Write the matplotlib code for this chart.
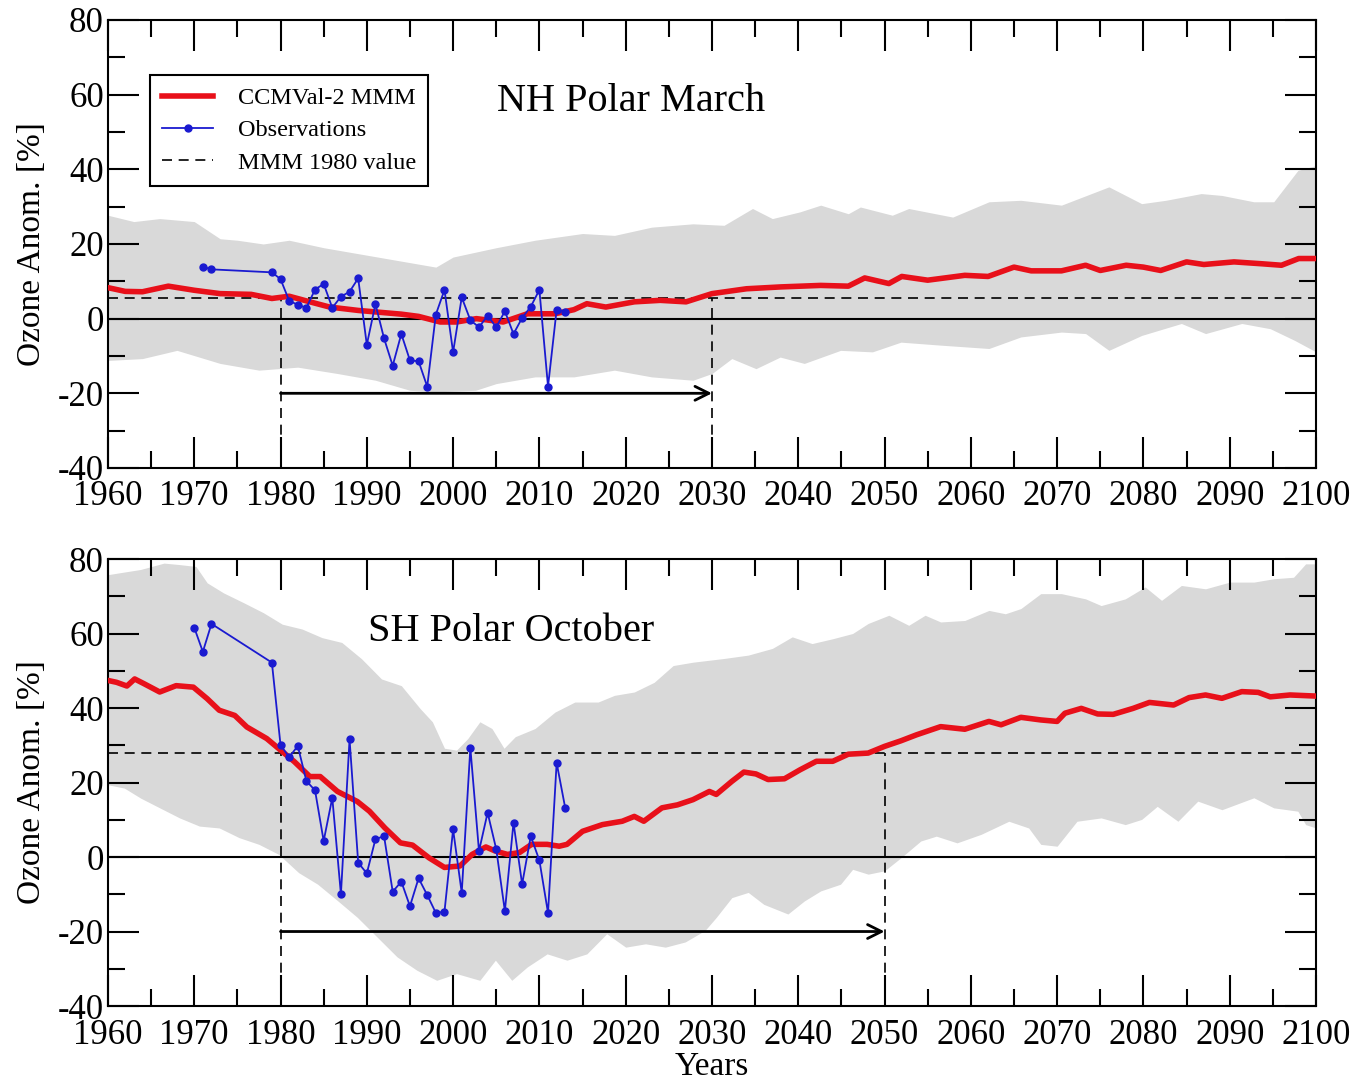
import numpy as np
import matplotlib
matplotlib.use("Agg")
import matplotlib.pyplot as plt
from matplotlib.ticker import MultipleLocator

plt.rcParams["font.family"] = ["Liberation Serif", "DejaVu Serif"]
plt.rcParams["axes.unicode_minus"] = False

# NH polar March: multi-model mean and model range
nh_mmm_yr = [1960, 1962, 1964, 1967, 1970, 1973, 1976.6, 1979, 1981, 1983.4, 1985.7, 1989,
             1991, 1994, 1996, 1998.5, 2000.4, 2002.7, 2005.8, 2008.6, 2011.8, 2014, 2015.5,
             2017.7, 2021, 2024, 2027, 2030, 2034, 2038, 2042.6, 2045.8, 2047.7, 2050.5, 2052,
             2055, 2059.3, 2062, 2065, 2067, 2070.5, 2073.3, 2075, 2078, 2080, 2082, 2085,
             2087, 2090.5, 2093.7, 2096, 2098, 2100]
nh_mmm = [8.3, 7.3, 7.2, 8.7, 7.6, 6.7, 6.5, 5.4, 6.0, 4.5, 3.1, 2.2,
          1.8, 1.2, 0.6, -0.9, -0.9, 0.0, -0.9, 1.3, 1.3, 2.4, 4.0,
          3.1, 4.5, 4.9, 4.5, 6.7, 8.0, 8.5, 8.9, 8.7, 10.9, 9.4, 11.3,
          10.3, 11.6, 11.3, 13.8, 12.8, 12.8, 14.3, 12.9, 14.3, 13.8, 12.9, 15.2,
          14.5, 15.2, 14.7, 14.3, 16.1, 16.1]

nh_hi_yr = [1960, 1963, 1966, 1970, 1973, 1975, 1978, 1981, 1985, 1989, 1993.5, 1998, 2000,
            2005, 2009.5, 2015, 2018.7, 2023, 2027.8, 2031.4, 2034.7, 2037, 2040.2, 2042.6,
            2045.8, 2047.2, 2050.9, 2052.8, 2057.9, 2062.1, 2065.8, 2070.5, 2076, 2079.8,
            2082.6, 2086.7, 2089.1, 2092.8, 2095.1, 2097.9, 2100]
nh_hi = [27.7, 26, 26.8, 26, 21.4, 21, 20, 21, 19, 17.4, 15.6, 13.8, 16.5,
         19, 21, 22.8, 22.3, 24.5, 25.4, 25, 29.5, 26.8, 28.6, 30.4,
         28.1, 29.9, 27.7, 29.5, 27.2, 31.3, 31.7, 30.4, 35.3, 30.8,
         31.7, 33.5, 33, 31.3, 31.3, 39.7, 41]

nh_lo_yr = [1960, 1964, 1968, 1973, 1977.5, 1982, 1986.6, 1991, 1995, 1998, 2002.6, 2005,
            2009.5, 2014, 2018.7, 2023, 2027.8, 2030, 2032.3, 2035.1, 2037.9, 2040.7, 2044.9,
            2048.6, 2051.9, 2056.5, 2062.1, 2065.8, 2070.5, 2073.3, 2076, 2079.8, 2084.4,
            2087.2, 2091.4, 2094.7, 2097.5, 2100]
nh_lo = [-11.2, -10.7, -8.5, -12, -13.8, -13, -14.7, -16.5, -19.2, -19.6, -19.2, -17.4,
         -15.6, -15.6, -13.8, -15.6, -16.5, -14.7, -10.7, -13.4, -10.3, -12, -8.5,
         -8.9, -6.3, -7.1, -8, -4.9, -3.6, -4, -8.5, -4.5, -1.3,
         -4, -1.3, -2.7, -5.8, -8.9]

nh_obs_yr = [1971, 1972] + list(range(1979, 2014))
nh_obs = [13.9, 13.2, 12.4, 10.6, 4.8, 3.7, 2.9, 7.8, 9.3, 2.9, 5.9, 7.2, 10.8, -7.0,
          3.9, -5.3, -12.6, -4.1, -11.2, -11.4, -18.2, 1.1, 7.7, -9.0, 5.7, -0.4, -2.3,
          0.8, -2.3, 2.0, -4.1, 0.2, 3.2, 7.7, -18.2, 2.4, 1.9]
nh_ref = 5.6
nh_return = 2030

# SH polar October
sh_mmm_yr = [1960, 1961, 1962.2, 1963.1, 1964.2, 1966, 1967.9, 1969.9, 1971.5, 1972.9, 1974.7,
             1976.1, 1978.4, 1980, 1981.6, 1983.4, 1984.6, 1986.6, 1988.9, 1990.3, 1992.1,
             1993.9, 1995.3, 1997.2, 1999, 2000.8, 2002.2, 2003.8, 2004.9, 2006.3, 2007.7,
             2009.1, 2010.9, 2012.3, 2013.2, 2015, 2017.3, 2019.6, 2021, 2022.1, 2024.2, 2026,
             2027.8, 2029.7, 2030.5, 2032.3, 2033.7, 2035.1, 2036.5, 2038.4, 2040.2, 2042.1,
             2044, 2045.8, 2048.1, 2050, 2051.9, 2053.7, 2056.5, 2059.3, 2062.1, 2063.5, 2065.8,
             2068.1, 2070, 2070.9, 2072.8, 2074.7, 2076.5, 2078.8, 2080.7, 2083.5, 2085.3,
             2087.2, 2089.1, 2091.4, 2093.3, 2094.7, 2097, 2100]
sh_mmm = [47.4, 46.9, 45.9, 47.8, 46.5, 44.3, 46, 45.6, 42.5, 39.4, 38,
          34.9, 31.8, 28.7, 25.6, 21.6, 21.6, 17.6, 14.9, 12.3, 7.8,
          3.8, 3.2, -0.2, -2.8, -2.4, 0.7, 2.7, 1.6, 0.7, 1.2,
          3.4, 3.4, 2.9, 3.4, 6.9, 8.7, 9.6, 10.9, 9.6, 13.2, 14,
          15.4, 17.6, 16.8, 20.3, 22.8, 22.3, 20.8, 21, 23.4, 25.7,
          25.7, 27.6, 27.9, 29.7, 31.2, 32.8, 35, 34.3, 36.4, 35.5, 37.5,
          36.8, 36.4, 38.6, 39.9, 38.4, 38.3, 39.9, 41.5, 40.8, 42.8,
          43.5, 42.6, 44.4, 44.2, 43, 43.5, 43.2]

sh_hi_yr = [1960, 1963.8, 1966.5, 1968.3, 1970.2, 1971.5, 1973.4, 1975.7, 1978, 1980.2, 1982.5,
            1984.8, 1987.1, 1989.4, 1991.7, 1994, 1996.2, 1997.6, 1999, 2000.4, 2001.7, 2003.1,
            2004.5, 2005.9, 2007.2, 2009.5, 2011.8, 2014.1, 2016.8, 2018.7, 2021, 2023.3,
            2025.5, 2027.8, 2031.4, 2034.2, 2037, 2039.3, 2041.6, 2044, 2046.3, 2048.1, 2050.5,
            2052.8, 2054.7, 2056.5, 2059.3, 2062.1, 2064, 2065.8, 2068.1, 2070.5, 2073.3,
            2075.1, 2077.9, 2080.2, 2082.1, 2084.4, 2087.2, 2090, 2092.8, 2095.1, 2097.4,
            2098.8, 2100]
sh_hi = [75.8, 77.2, 78.9, 78.5, 78, 73.6, 70.9, 68.3, 65.6, 62.5, 61.2,
         58.9, 57.6, 53.2, 47.8, 46, 39.8, 36.3, 29.2, 28.7, 31.8, 36.3,
         34.5, 29.2, 32.3, 34.5, 38.9, 41.6, 41.6, 43.4, 44.3, 46.9,
         51.4, 52.3, 53.3, 54.2, 56, 59.1, 57.3, 58.6, 60, 62.7, 64.9,
         62.2, 64.9, 63.1, 63.5, 66.2, 65.3, 66.7, 70.7, 70.7, 69.3,
         67.5, 69.3, 72.5, 68.9, 72.9, 72, 73.8, 73.8, 74.7, 75.1,
         78.7, 78.7]

sh_lo_yr = [1960, 1961.9, 1963.8, 1966, 1968.3, 1970.6, 1972.9, 1975.2, 1977.5, 1979.8, 1982.1,
            1984.3, 1986.6, 1988.9, 1991.2, 1993.5, 1995.8, 1998.1, 2000.4, 2003.1, 2004.9,
            2006.8, 2008.6, 2010.9, 2013.2, 2015.5, 2017.8, 2020, 2022.3, 2024.6, 2026.9,
            2029.2, 2030.5, 2032.3, 2034.2, 2036, 2038.8, 2040.7, 2042.6, 2044.9, 2046.3,
            2048.1, 2050, 2051.9, 2054.2, 2056, 2058.4, 2061.2, 2064.4, 2066.7, 2068.1, 2070,
            2072.3, 2075.1, 2077.9, 2079.8, 2081.6, 2084, 2086.3, 2089.1, 2092.8, 2095.1,
            2097.9, 2098.8, 2100]
sh_lo = [19.4, 18.5, 15.8, 13.2, 10.5, 8.3, 7.8, 5.2, 3.4, 0.7, -4.2,
         -7.3, -11.7, -16.2, -21.5, -26.8, -30.4, -33.1, -31.3, -33.1, -27.7,
         -33.1, -29.5, -26, -27.7, -26, -20.6, -24.2, -23.3, -24.2, -22.8,
         -19.7, -16.2, -10.9, -9.5, -12.7, -15.3, -11.8, -9.1, -7.3, -3.3,
         -4.6, -3.7, -0.2, 4.3, 5.6, 3.8, 6.1, 9.6, 7.8, 3.4, 2.9,
         9.6, 10.5, 8.7, 10.1, 13.6, 9.6, 15, 12.7, 15.9, 13.2,
         12.3, 8.7, 7.8]

sh_obs_yr = [1970, 1971, 1972] + list(range(1979, 2014))
sh_obs = [61.6, 55.1, 62.6, 52.2, 30.1, 26.8, 29.8, 20.4, 17.9, 4.3, 15.9, -10.0, 31.6,
          -1.5, -4.4, 4.8, 5.6, -9.3, -6.6, -13.2, -5.7, -10.2, -15.0, -14.7, 7.4, -9.6,
          29.3, 1.6, 11.9, 2.1, -14.5, 9.2, -7.3, 5.6, -0.9, -15.0, 25.3, 13.1]
sh_ref = 27.8
sh_return = 2050

panels = [
    ("NH Polar March", nh_mmm_yr, nh_mmm, nh_hi_yr, nh_hi, nh_lo_yr, nh_lo,
     nh_obs_yr, nh_obs, nh_ref, nh_return, (0.433, 0.819)),
    ("SH Polar October", sh_mmm_yr, sh_mmm, sh_hi_yr, sh_hi, sh_lo_yr, sh_lo,
     sh_obs_yr, sh_obs, sh_ref, sh_return, (0.334, 0.837)),
]

fig = plt.figure(figsize=(13.56, 10.8), dpi=100)
ax_top = fig.add_axes([0.0796, 0.5667, 0.8909, 0.4148])
ax_bot = fig.add_axes([0.0796, 0.0685, 0.8909, 0.4139])

grey = "#d9d9d9"
for ax, (title, myr, mv, hyr, hv, lyr, lv, oyr, ov, ref, ret, tpos) in zip((ax_top, ax_bot), panels):
    # model range: upper and lower edges have their own year samples
    yrs = np.union1d(hyr, lyr)
    ax.fill_between(yrs, np.interp(yrs, lyr, lv), np.interp(yrs, hyr, hv),
                    color=grey, lw=0, zorder=1)
    ax.axhline(0, color="k", lw=1.5, zorder=2)
    ax.axhline(ref, color="k", lw=1.2, ls=(0, (6, 4)), zorder=2)
    ax.plot([1980, 1980], [-40, ref], color="k", lw=1.2, ls=(0, (6, 4)), zorder=2)
    ax.plot([ret, ret], [-40, ref], color="k", lw=1.2, ls=(0, (6, 4)), zorder=2)
    ax.annotate("", xy=(ret, -20), xytext=(1980, -20),
                arrowprops=dict(arrowstyle="->", lw=2, color="k", mutation_scale=25,
                                shrinkA=0, shrinkB=0), zorder=3)
    ax.plot(myr, mv, color="#e8101a", lw=4, zorder=4, label="CCMVal-2 MMM")
    ax.plot(oyr, ov, color="#1a1ad0", lw=1.3, marker="o", ms=5, zorder=5,
            label="Observations")
    ax.text(tpos[0], tpos[1], title, transform=ax.transAxes, ha="center", va="center",
            fontsize=29)

    ax.set_xlim(1960, 2100)
    ax.set_ylim(-40, 80)
    ax.xaxis.set_major_locator(MultipleLocator(10))
    ax.xaxis.set_minor_locator(MultipleLocator(5))
    ax.yaxis.set_major_locator(MultipleLocator(20))
    ax.yaxis.set_minor_locator(MultipleLocator(10))
    ax.tick_params(which="both", direction="in", top=True, right=True, labelsize=25, width=1.5)
    ax.tick_params(which="major", length=22, pad=3)
    ax.tick_params(axis="x", which="major", pad=9)
    ax.tick_params(which="minor", length=12)
    for s in ax.spines.values():
        s.set_linewidth(1.5)
    ax.set_ylabel("Ozone Anom. [%]", fontsize=24, labelpad=8)

# legend only on the top panel; dashed entry is the 1980 reference line
handles, labels = ax_top.get_legend_handles_labels()
ref_handle = plt.Line2D([], [], color="k", lw=1.2, ls=(0, (6, 4)))
leg = ax_top.legend(handles + [ref_handle], labels + ["MMM 1980 value"],
                    loc="upper left", bbox_to_anchor=(0.035, 0.877), borderaxespad=0,
                    fancybox=False, framealpha=1, edgecolor="k", fontsize=17.5,
                    handlelength=2.1, handletextpad=1.0, labelspacing=0.42,
                    borderpad=0.5)
leg.get_frame().set_linewidth(1.5)

ax_bot.set_xlabel("Years", fontsize=24, labelpad=0)

fig.savefig("out.png", dpi=100)
